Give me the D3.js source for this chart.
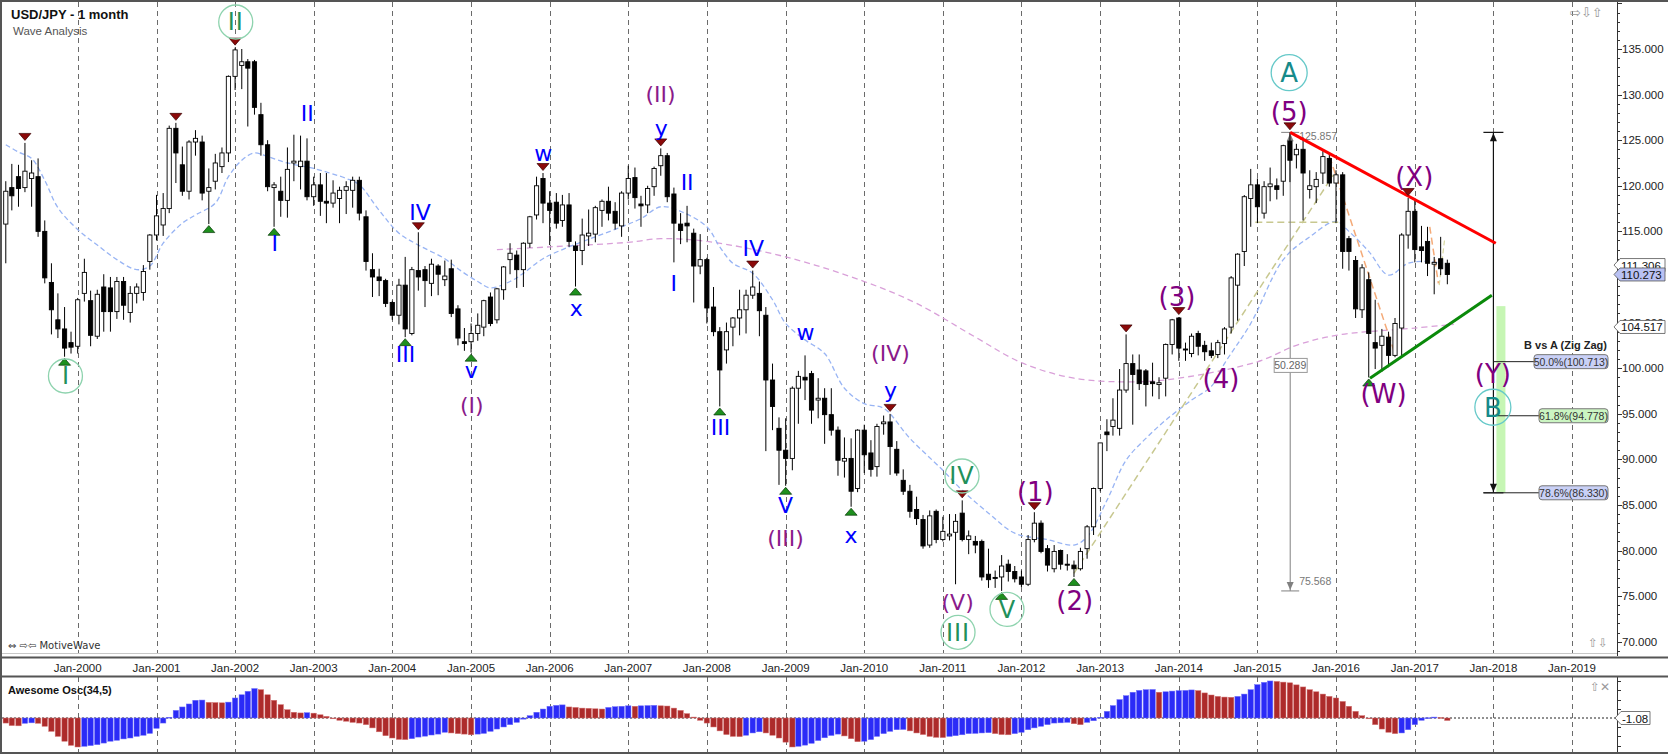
<!DOCTYPE html>
<html><head><meta charset="utf-8">
<script src="https://cdn.jsdelivr.net/npm/d3@7"></script>
<style>
body{margin:0;background:#fff;}
svg{display:block;font-family:"Liberation Sans",Arial,sans-serif;}
</style>
</head><body>
<svg id="c" width="1668" height="754"></svg>
<script>
// ---------------- DATA ----------------
const startMonth = "1999-01";
const opens = [
113.2,115.8,119.8,121.0,119.8,120.8,121.0,115.0,109.4,105.3,104.3,102.8,
102.4,108.2,107.4,103.5,108.9,108.8,106.2,109.5,106.1,108.2,108.3,111.7,
114.6,115.7,117.5,126.3,122.3,119.4,124.8,124.8,119.4,120.5,122.1,123.6,
132.0,133.2,133.6,133.6,127.8,124.5,119.8,119.4,118.4,122.5,122.1,122.7,
118.8,120.1,118.3,118.1,118.6,119.5,119.5,120.6,116.6,110.8,110.0,109.6,
107.2,105.8,109.1,103.8,110.7,110.8,109.3,111.2,109.7,110.9,106.5,102.9,
102.9,103.8,104.5,107.8,105.3,108.6,111.9,112.4,110.8,113.7,116.8,120.8,
118.1,118.2,116.2,117.9,113.4,112.9,114.5,114.7,117.3,118.3,117.2,115.6,
119.2,120.9,118.0,117.9,119.9,122.2,123.3,119.1,115.8,115.9,114.8,111.2,
111.9,106.7,104.0,102.0,104.5,105.5,106.4,108.0,108.2,105.8,98.7,93.4,
91.0,90.1,97.8,99.0,99.4,96.5,96.7,94.9,93.2,89.8,90.1,86.8,
93.2,90.7,89.2,93.9,94.1,91.1,87.7,86.5,84.5,83.4,80.6,84.3,
81.2,81.6,82.0,84.1,81.2,81.0,81.0,77.4,77.05,77.1,78.5,77.7,
77.1,76.3,81.2,83.0,80.2,78.0,80.0,78.5,78.4,78.0,80.2,82.6,
86.8,93.0,93.6,93.4,97.6,100.5,99.8,99.7,98.5,98.2,98.9,102.6,
105.5,102.1,101.6,103.8,102.5,101.9,101.5,102.7,104.5,109.1,112.8,118.6,
120.1,117.0,119.9,120.0,120.5,124.9,123.4,124.0,119.6,119.9,121.4,123.0,
120.3,121.2,114.2,111.8,106.4,109.7,102.8,102.5,103.4,101.4,104.4,114.6,
117.2,113.3,113.9,111.4,112.0,111.5];
const highs = [
116.8,120.5,122.4,122.3,124.7,122.8,123.0,116.2,111.5,108.2,106.7,104.0,
107.7,112.0,108.5,108.6,110.3,110.0,110.0,110.0,109.0,109.3,111.3,114.7,
119.0,119.2,126.6,126.9,124.3,125.0,126.1,125.5,121.9,123.5,124.2,132.1,
135.15,135.0,133.9,133.8,129.1,125.0,120.4,121.0,124.2,125.6,125.5,125.2,
121.0,121.4,121.4,120.6,119.9,120.5,121.0,121.0,117.3,112.6,110.9,109.8,
107.4,109.8,112.2,111.1,114.9,111.2,112.0,111.4,111.8,111.9,106.9,104.4,
104.9,106.0,107.5,108.3,108.8,111.2,113.7,112.9,113.8,116.7,121.0,121.4,
119.4,119.2,119.0,119.2,113.9,116.4,117.4,117.8,118.5,119.9,118.2,119.4,
122.2,122.0,118.9,120.0,122.1,124.1,123.6,119.8,117.0,117.8,115.3,114.7,
112.1,108.9,104.5,105.0,105.6,108.6,108.6,110.7,109.5,106.7,100.5,94.6,
94.5,98.0,99.7,101.4,99.7,98.9,97.8,97.8,93.6,92.4,92.3,93.3,
93.8,92.1,93.9,94.8,94.98,92.0,88.9,87.2,85.9,83.9,84.4,84.5,
83.7,84.0,84.0,85.5,82.2,81.6,81.2,80.2,77.8,79.5,79.0,78.3,
77.8,81.7,84.2,83.3,80.6,80.6,80.1,79.6,78.9,80.3,82.8,86.9,
91.8,94.4,96.7,99.9,103.7,101.5,101.5,99.9,100.6,99.0,102.7,105.4,
105.6,102.8,103.8,104.1,103.0,102.8,103.1,104.5,110.1,112.6,118.98,121.85,
120.8,120.5,122.0,120.8,124.5,125.86,124.6,125.3,121.7,121.5,123.8,123.6,
121.7,121.5,114.5,112.3,111.4,110.5,107.5,104.3,104.0,105.5,114.8,118.66,
118.6,115.6,115.5,112.2,114.4,111.9];
const lows = [
108.3,111.5,117.3,117.7,119.3,117.7,114.4,109.3,103.7,103.3,101.25,101.6,
101.6,107.3,102.4,103.2,104.0,104.0,105.4,105.3,105.0,107.1,107.4,110.8,
114.0,114.5,117.0,120.3,118.9,118.5,123.3,118.4,115.8,119.6,121.4,122.6,
130.5,130.6,126.5,127.8,123.3,119.4,115.5,116.6,116.5,120.5,119.6,118.4,
117.8,116.7,115.9,117.6,115.9,116.9,117.6,116.2,110.7,107.8,107.9,106.7,
105.3,104.8,103.4,103.6,108.5,106.7,107.9,108.0,109.0,105.6,102.5,101.9,
101.7,103.0,103.5,104.6,104.9,107.5,110.3,108.8,108.9,113.2,116.3,115.9,
113.5,115.3,115.5,113.3,108.95,111.3,113.4,113.8,115.5,116.2,115.2,114.4,
118.5,117.5,115.5,117.0,118.9,121.1,118.2,111.6,113.6,113.8,107.2,110.3,
104.9,103.5,95.8,100.5,102.4,103.6,103.8,107.6,103.5,90.9,93.2,87.2,
87.1,88.8,93.9,96.5,93.9,94.5,91.7,92.6,88.2,88.0,84.8,86.4,
88.5,88.1,88.1,92.7,88.3,88.2,86.1,83.6,82.8,80.2,80.3,80.8,
81.0,81.1,76.3,81.0,79.6,79.7,76.7,75.9,75.9,75.57,76.6,76.5,
76.0,76.1,80.9,79.7,77.7,77.6,77.9,77.8,77.1,77.8,79.1,81.7,
86.5,90.9,92.6,92.6,97.3,93.8,97.6,95.8,96.9,96.6,96.9,101.5,
100.8,100.8,101.2,101.4,100.8,101.1,101.1,101.5,103.8,105.2,111.2,115.5,
115.9,116.4,118.3,118.5,118.9,120.4,121.9,116.2,118.6,118.1,120.2,119.9,
115.9,110.9,110.7,105.5,105.5,98.98,99.9,99.6,100.1,101.2,101.2,113.1,
111.6,111.6,110.1,108.1,110.2,109.2];
const closes = [
115.8,119.4,118.9,119.7,121.6,121.4,115.0,109.9,106.4,104.3,102.2,102.3,
107.5,110.5,103.6,108.1,106.2,106.2,109.5,106.9,108.2,108.9,110.6,114.6,
116.7,117.5,126.3,123.6,119.4,124.8,125.2,119.2,119.8,122.5,123.6,132.0,
134.9,133.6,132.9,128.6,124.5,119.9,120.1,118.4,121.8,122.7,122.7,118.8,
120.1,118.3,118.1,119.2,119.5,119.9,120.6,117.0,111.7,110.0,109.6,107.1,
105.8,109.1,104.3,110.8,110.0,109.6,111.4,110.3,110.1,106.0,103.3,102.7,
103.8,104.7,107.4,104.9,108.7,111.1,112.6,110.8,113.7,116.6,120.0,118.1,
117.3,115.9,117.9,113.9,112.9,114.6,114.8,117.6,118.3,117.0,115.9,119.2,
120.8,118.7,117.8,119.7,121.9,123.3,118.8,115.9,115.1,115.6,111.2,111.9,
106.6,104.0,99.8,104.0,105.5,106.4,108.0,108.9,106.3,98.7,95.8,91.0,
90.1,97.8,99.1,98.7,95.4,96.7,94.9,93.2,89.9,90.1,86.5,93.2,
90.5,88.9,93.6,94.1,91.4,88.5,86.5,84.3,83.5,80.5,83.8,81.2,
82.1,81.8,83.2,81.2,81.6,80.6,77.1,76.8,76.95,78.3,77.7,76.9,
76.3,81.2,83.0,79.9,78.4,79.9,78.5,78.4,78.0,79.9,82.6,86.8,
91.8,92.7,94.3,97.6,100.5,99.3,98.3,98.2,98.3,98.4,102.6,105.3,
102.2,102.0,103.5,102.4,101.8,101.4,102.8,104.3,109.9,112.5,118.8,120.1,
117.7,119.9,120.2,119.6,124.4,122.8,124.0,121.4,120.0,120.7,123.2,120.3,
121.2,112.8,112.8,106.5,111.0,103.8,102.2,103.5,101.4,104.9,114.6,117.2,
113.0,112.9,111.5,111.6,110.9,110.273];
const aoValues = [
-1.5,-2.2,-3.3,-3.4,-2.3,-2.1,-2.3,-3.6,-5.8,-8.0,-10.1,-11.9,
-12.6,-12.3,-12.0,-11.6,-10.9,-10.1,-9.7,-9.1,-8.7,-8.0,-7.5,-6.7,
-4.5,-2.2,0.3,3.3,4.8,6.1,7.7,7.8,6.8,6.7,6.6,6.9,
8.7,10.1,11.6,12.8,12.3,10.1,7.7,5.8,3.6,2.5,2.2,2.3,
2.1,1.4,0.7,-0.1,-1.0,-1.4,-1.9,-2.2,-2.9,-4.3,-6.0,-7.7,
-8.7,-9.3,-9.4,-9.0,-8.3,-7.9,-7.4,-7.0,-6.2,-6.5,-6.8,-7.0,
-7.3,-7.0,-6.7,-5.8,-4.8,-3.9,-2.9,-1.9,-0.5,1.0,2.5,3.9,
5.1,5.5,5.7,4.8,4.6,4.3,4.2,4.0,3.9,4.6,4.9,5.1,
5.3,5.1,5.3,5.4,5.5,5.3,5.2,4.3,3.3,1.9,0.4,-1.0,
-2.2,-3.9,-5.6,-7.2,-8.0,-8.1,-7.5,-6.5,-6.0,-6.5,-7.5,-8.7,
-10.5,-12.6,-12.3,-11.8,-11.0,-9.8,-8.6,-7.6,-7.0,-7.8,-9.0,-10.3,
-10.1,-9.4,-8.0,-6.8,-5.8,-5.1,-5.0,-5.6,-6.5,-7.2,-8.0,-8.4,
-8.5,-8.0,-7.7,-7.3,-6.8,-6.7,-6.5,-6.4,-6.8,-7.2,-7.3,-6.8,
-6.2,-5.1,-4.3,-3.6,-2.9,-2.2,-2.1,-1.9,-2.5,-2.9,-1.9,-1.2,
0.3,2.9,5.4,8.0,9.7,11.2,12.0,12.3,12.4,11.2,11.4,11.7,
11.9,12.0,12.2,11.9,10.9,10.0,9.4,9.1,9.0,9.4,10.4,12.3,
14.5,15.5,16.1,15.9,15.6,15.3,14.4,13.5,12.3,11.4,10.4,9.4,
8.7,7.2,5.1,2.9,1.0,-0.3,-2.9,-4.8,-6.2,-6.8,-6.5,-5.1,
-2.9,-1.0,0.1,0.4,0.2,-1.08];

// moving averages (month, value)
const fastMA = [["1999-02",124.5],["1999-04",123.7],["1999-06",123.0],["1999-08",120.6],["1999-10",117.6],["2000-01",115.2],["2000-04",113.5],["2000-07",111.9],["2000-10",110.8],["2000-12",111.2],["2001-02",113.7],["2001-05",115.9],["2001-07",116.8],["2001-10",118.1],["2001-12",121.0],["2002-02",122.8],["2002-04",123.6],["2002-06",123.2],["2002-09",122.5],["2003-01",121.9],["2003-06",120.8],["2003-08",120.1],["2003-11",117.3],["2004-02",114.8],["2004-05",113.5],["2004-09",112.0],["2004-11",110.9],["2005-02",109.5],["2005-04",108.8],["2005-07",109.5],["2005-09",110.4],["2005-12",112.0],["2006-04",113.3],["2006-08",114.4],["2006-12",115.5],["2007-03",116.4],["2007-06",117.7],["2007-09",117.2],["2008-01",115.5],["2008-03",113.3],["2008-05",111.5],["2008-08",110.4],["2008-11",107.5],["2009-01",104.9],["2009-04",103.1],["2009-07",101.6],["2009-10",97.8],["2010-01",96.1],["2010-04",95.6],["2010-08",92.3],["2011-01",88.8],["2011-04",86.6],["2011-08",84.1],["2011-12",81.9],["2012-05",81.2],["2012-09",80.6],["2012-11",81.5],["2013-02",85.5],["2013-05",89.9],["2013-08",92.3],["2013-11",94.3],["2014-03",96.5],["2014-06",98.0],["2014-08",100.5],["2014-12",104.9],["2015-05",111.9],["2015-09",114.4],["2016-01",116.1],["2016-03",115.0],["2016-06",112.8],["2016-09",110.2],["2016-12",111.5],["2017-03",111.7],["2017-05",111.5]];
const slowMA = [["2005-05",113.0],["2006-01",113.3],["2007-01",113.8],["2007-06",114.2],["2008-01",113.9],["2009-01",112.2],["2010-01",109.5],["2010-09",107.1],["2011-06",103.4],["2012-01",100.6],["2012-09",98.9],["2013-06",98.5],["2014-01",98.9],["2015-01",100.7],["2015-07",102.5],["2016-01",103.6],["2017-01",104.4],["2017-07",104.8]];

const yearLabels = d3.range(2000, 2020).map(y => "Jan-" + y);
const priceTicks = [70,75,80,85,90,95,100,105,110,115,120,125,130,135];

const highMarkers = ["1999-05","2001-04","2002-01","2004-05","2005-12","2007-06","2008-08","2010-05","2011-04","2012-03","2013-05","2014-01","2015-06","2016-12"];
const lowMarkers = ["1999-11","2001-09","2002-07","2004-03","2005-01","2006-05","2008-03","2009-01","2009-11","2011-10","2012-09","2016-06"];

// wave labels: [decimal year, price, text, kind]
const waveLabels = [
 [1999.844,99.14,"I","gc"],[2002.008,137.96,"II","gc"],[2011.193,71.03,"III","gc"],[2011.244,88.17,"IV","gc"],[2011.816,73.55,"V","gc"],
 [2015.404,132.40,"A","tc"],[2017.993,95.71,"B","tc"],
 [2012.176,86.45,"(1)","pb"],[2012.676,74.57,"(2)","pb"],[2013.977,107.84,"(3)","pb"],[2014.536,98.89,"(4)","pb"],[2015.404,128.13,"(5)","pb"],
 [2016.603,97.24,"(W)","pb"],[2016.993,121.07,"(X)","pb"],[2017.993,99.44,"(Y)","pb"],
 [2005.008,95.96,"(I)","ps"],[2007.410,130.03,"(II)","ps"],[2008.999,81.34,"(III)","ps"],[2010.333,101.63,"(IV)","ps"],[2011.188,74.39,"(V)","ps"],
 [2002.919,127.95,"II","b"],[2002.504,113.69,"I","b"],[2004.351,117.16,"IV","b"],[2004.169,101.55,"III","b"],[2005.001,99.80,"v","b"],
 [2005.919,123.57,"w","b"],[2006.338,106.57,"x","b"],[2007.419,126.31,"y","b"],[2007.749,120.45,"II","b"],[2007.579,109.31,"I","b"],
 [2008.588,113.15,"IV","b"],[2008.172,93.58,"III","b"],[2009.253,104.00,"w","b"],[2008.999,84.99,"V","b"],[2010.333,97.60,"y","b"],[2009.833,81.70,"x","b"]
];

const redLine = [[2015.417,125.857],[2018.03,113.7]];
const greenLine = [[2016.431,98.9],[2017.98,108.0]];
const oliveDiag = [[2012.666,77.5],[2015.967,121.2]];
const oliveFlat = [[2014.973,116.0],[2016.028,116.0]];
const salmonLines = [[[2015.918,123.2],[2016.731,102.0]],[[2017.19,115.5],[2017.30,109.3]]];
const oliveSmall = [[2017.31,109.1],[2017.38,114.2]];
const measureA = {year:2015.417, top:125.857, bottom:75.568, range:"50.289"};
const fibAnchorYear = 2018.0;
const fibTop = 125.857;
const fibLevels = [["50.0%",100.713,"b"],["61.8%",94.778,"g"],["78.6%",86.330,"b"]];
const fibTitlePrice = 102.55;
const fibZone = [106.8, 86.33];
const priceFlags = [[111.306,"w"],[110.273,"b"],[104.517,"w"]];
const aoLast = "-1.08";
const aoTicks = [-16,-12,-8,-4,4,8,12,16];

// ---------------- SCALES ----------------
const svg = d3.select("#c");
const axisX = 1617;
const parseM = d3.utcParse("%Y-%m");
const start = parseM(startMonth);
const months = closes.map((_, i) => d3.utcMonth.offset(start, i));
const yd = v => { const yr = Math.floor(v); const a = Date.UTC(yr,0,1), b = Date.UTC(yr+1,0,1); return new Date(a + (v-yr)*(b-a)); };
const x = d3.scaleUtc().domain([new Date(Date.UTC(2000,0,1)), new Date(Date.UTC(2019,0,1))]).range([77.7, 1572]);
const y = d3.scaleLinear().domain([70,135]).range([641.7,49]);
const yAO = d3.scaleLinear().domain([-16,16]).range([754.8,681.2]);
const idxOf = m => months.findIndex(d => +d === +parseM(m));

const defs = svg.append("defs");
defs.append("clipPath").attr("id","mainClip").append("rect").attr("x",2).attr("y",2).attr("width",axisX-2).attr("height",652);
defs.append("clipPath").attr("id","aoClip").append("rect").attr("x",2).attr("y",677).attr("width",axisX-2).attr("height",75);

svg.append("rect").attr("x",0).attr("y",0).attr("width",1668).attr("height",754).attr("fill","#fff");

// gridlines
const years = d3.range(2000, 2020).map(yv => new Date(Date.UTC(yv,0,1)));
const grid = svg.append("g").attr("stroke","#6b6b6b").attr("stroke-dasharray","5,4").attr("stroke-width",1);
years.forEach(d => {
  const gx = Math.round(x(d)) + 0.5;
  grid.append("line").attr("x1",gx).attr("x2",gx).attr("y1",2).attr("y2",653);
  grid.append("line").attr("x1",gx).attr("x2",gx).attr("y1",677).attr("y2",752);
});

const main = svg.append("g").attr("clip-path","url(#mainClip)");

// moving averages
const lineGen = d3.line().x(d => x(parseM(d[0]))).y(d => y(d[1])).curve(d3.curveCatmullRom.alpha(0.5));
main.append("path").attr("d", lineGen(slowMA)).attr("fill","none").attr("stroke","#d9a0d9").attr("stroke-width",1.3).attr("stroke-dasharray","6,4");
main.append("path").attr("d", lineGen(fastMA)).attr("fill","none").attr("stroke","#98b4f4").attr("stroke-width",1.3).attr("stroke-dasharray","5,3");

// helper lines
const segY = d3.line().x(d => x(yd(d[0]))).y(d => y(d[1]));
main.append("path").attr("d", segY(oliveDiag)).attr("stroke","#c8c890").attr("stroke-width",1.5).attr("stroke-dasharray","7,4").attr("fill","none");
main.append("path").attr("d", segY(oliveFlat)).attr("stroke","#c8c890").attr("stroke-width",1.5).attr("stroke-dasharray","7,4").attr("fill","none");
main.append("path").attr("d", segY(oliveSmall)).attr("stroke","#d8d8a0").attr("stroke-width",1.2).attr("stroke-dasharray","5,3").attr("fill","none");
salmonLines.forEach(s => main.append("path").attr("d", segY(s)).attr("stroke","#f4aa78").attr("stroke-width",1.5).attr("stroke-dasharray","7,4").attr("fill","none"));

// measuring line (A)
const mx = x(yd(measureA.year));
const myT = y(measureA.top), myB = y(measureA.bottom);
main.append("line").attr("x1",mx).attr("x2",mx).attr("y1",myT).attr("y2",myB).attr("stroke","#808080").attr("stroke-width",1);
main.append("line").attr("x1",mx-9).attr("x2",mx+9).attr("y1",myT).attr("y2",myT).attr("stroke","#808080");
main.append("line").attr("x1",mx-9).attr("x2",mx+9).attr("y1",myB).attr("y2",myB).attr("stroke","#808080");
main.append("path").attr("d",`M${mx},${myT+1}L${mx-3.5},${myT+9}L${mx+3.5},${myT+9}Z`).attr("fill","#808080");
main.append("path").attr("d",`M${mx},${myB-1}L${mx-3.5},${myB-9}L${mx+3.5},${myB-9}Z`).attr("fill","#808080");
main.append("text").attr("x",mx+9).attr("y",myT+8).attr("font-size",10.5).attr("fill","#777").text(measureA.top.toFixed(3));
main.append("text").attr("x",mx+9).attr("y",myB-6).attr("font-size",10.5).attr("fill","#777").text(measureA.bottom.toFixed(3));
const midY = y(100.3);
main.append("rect").attr("x",mx-16).attr("y",midY-7).attr("width",33).attr("height",14).attr("fill","#fff").attr("stroke","#999");
main.append("text").attr("x",mx).attr("y",midY).attr("text-anchor","middle").attr("dominant-baseline","central").attr("font-size",10.5).attr("fill","#666").text(measureA.range);

// candles
const cw = 4.2;
const cg = main.append("g");
months.forEach((d, i) => {
  const cx = x(d);
  const o = opens[i], c = closes[i], h = highs[i], l = lows[i];
  cg.append("line").attr("x1",cx).attr("x2",cx).attr("y1",y(h)).attr("y2",y(l)).attr("stroke","#000").attr("stroke-width",1);
  const top = y(Math.max(o,c)), bot = y(Math.min(o,c));
  cg.append("rect").attr("x",cx-cw/2).attr("y",top).attr("width",cw).attr("height",Math.max(1,bot-top))
    .attr("fill", c >= o ? "#fff" : "#000").attr("stroke","#000").attr("stroke-width",0.9);
});

// fib projection (B vs A)
const fx = x(yd(fibAnchorYear));
main.append("rect").attr("x",fx+3).attr("y",y(fibZone[0])).attr("width",9).attr("height",y(fibZone[1])-y(fibZone[0])).attr("fill","#c6f6b4");
const fT = y(fibTop), fB = y(fibLevels[2][1]);
main.append("line").attr("x1",fx).attr("x2",fx).attr("y1",fT).attr("y2",fB).attr("stroke","#111").attr("stroke-width",1.2);
main.append("line").attr("x1",fx-10).attr("x2",fx+10).attr("y1",fT).attr("y2",fT).attr("stroke","#111").attr("stroke-width",1.2);
main.append("line").attr("x1",fx-10).attr("x2",fx+10).attr("y1",fB).attr("y2",fB).attr("stroke","#111").attr("stroke-width",1.2);
main.append("path").attr("d",`M${fx},${fT+1}L${fx-3.5},${fT+9}L${fx+3.5},${fT+9}Z`).attr("fill","#111");
main.append("path").attr("d",`M${fx},${fB-1}L${fx-3.5},${fB-9}L${fx+3.5},${fB-9}Z`).attr("fill","#111");
fibLevels.forEach((f, i) => {
  const ly = y(f[1]);
  const bx = i === 0 ? 1534 : 1539;
  const x0 = i === 0 ? fx : (i === 1 ? fx + 4 : fx - 10);
  main.append("line").attr("x1",x0).attr("x2",bx).attr("y1",ly).attr("y2",ly).attr("stroke","#222").attr("stroke-width",1);
  main.append("rect").attr("x",bx).attr("y",ly-7).attr("width",1608-bx).attr("height",14).attr("rx",3)
    .attr("fill", f[2] === "g" ? "#cbf5c2" : "#c9d0f6").attr("stroke","#777");
  main.append("text").attr("x",(bx+1608)/2).attr("y",ly+0.5).attr("text-anchor","middle").attr("dominant-baseline","central")
    .attr("font-size",10.5).attr("fill","#333").text(f[0] + "(" + f[1].toFixed(3) + ")");
});
main.append("text").attr("x",1607).attr("y",y(fibTitlePrice)).attr("text-anchor","end").attr("dominant-baseline","central")
  .attr("font-size",11).attr("font-weight","bold").attr("fill","#222").text("B vs A (Zig Zag)");

// triangle lines
main.append("path").attr("d", segY(redLine)).attr("stroke","#ff0000").attr("stroke-width",3).attr("fill","none");
main.append("path").attr("d", segY(greenLine)).attr("stroke","#0a8a0a").attr("stroke-width",3).attr("fill","none");

// markers
highMarkers.forEach(m => {
  const i = idxOf(m); const cx = x(months[i]); const ty = y(highs[i]) - 2.5;
  main.append("path").attr("d",`M${cx},${ty}L${cx-6},${ty-7}L${cx+6},${ty-7}Z`).attr("fill","#8b0a0a").attr("stroke","#3a0000").attr("stroke-width",0.7);
});
lowMarkers.forEach(m => {
  const i = idxOf(m); const cx = x(months[i]); const ty = y(lows[i]) + 1.5;
  main.append("path").attr("d",`M${cx},${ty}L${cx-6},${ty+7}L${cx+6},${ty+7}Z`).attr("fill","#1e8f1e").attr("stroke","#0a3a0a").attr("stroke-width",0.7);
});

// wave labels
const styles = {
  gc:{size:24, fill:"#22905a", font:"DejaVu Sans", circle:"#8ed3ae", r:17},
  tc:{size:26, fill:"#178a8a", font:"DejaVu Sans", circle:"#66c9c9", r:18},
  pb:{size:26, fill:"#800080", font:"DejaVu Sans"},
  ps:{size:22, fill:"#8a1a8a", font:"DejaVu Sans"},
  b:{size:22, fill:"#0000ff", font:"DejaVu Sans"}
};
waveLabels.forEach(w => {
  const s = styles[w[3]];
  const lx = x(yd(w[0])), ly = y(w[1]);
  if (s.circle) main.append("circle").attr("cx",lx).attr("cy",ly).attr("r",s.r).attr("fill","none").attr("stroke",s.circle).attr("stroke-width",1.3);
  main.append("text").attr("x",lx).attr("y",ly + s.size*0.02).attr("text-anchor","middle").attr("dominant-baseline","central")
    .attr("font-family",s.font).attr("font-size",s.size).attr("fill",s.fill)
    .attr("letter-spacing", w[3]==="gc" && w[2].length>1 ? 1 : 0).text(w[2]);
});

// ---------------- AO panel ----------------
const ao = svg.append("g").attr("clip-path","url(#aoClip)");
ao.append("line").attr("x1",2).attr("x2",axisX).attr("y1",yAO(0)).attr("y2",yAO(0)).attr("stroke","#222").attr("stroke-dasharray","2,2");
aoValues.forEach((v, i) => {
  const up = i === 0 ? v >= 0 : v > aoValues[i-1];
  const bx = x(months[i]);
  ao.append("rect").attr("x",bx-2.7).attr("width",5.4).attr("y",Math.min(yAO(v),yAO(0))).attr("height",Math.max(0.8,Math.abs(yAO(v)-yAO(0))))
    .attr("fill", up ? "#2b2bf7" : "#ad2b2b").attr("stroke", up ? "#6d6dfb" : "#d27070").attr("stroke-width",0.5);
});
svg.append("text").attr("x",8).attr("y",690).attr("dominant-baseline","central").attr("font-size",11).attr("font-weight","bold").attr("fill","#111").text("Awesome Osc(34,5)");

// ---------------- axes & frame ----------------
svg.append("line").attr("x1",axisX+0.5).attr("x2",axisX+0.5).attr("y1",2).attr("y2",656).attr("stroke","#333");
svg.append("line").attr("x1",axisX+0.5).attr("x2",axisX+0.5).attr("y1",677).attr("y2",753).attr("stroke","#333");
const ticks = svg.append("g").attr("stroke","#333");
d3.range(69, 141).forEach(v => {
  const ty = Math.round(y(v)) + 0.5;
  if (ty < 3 || ty > 655) return;
  ticks.append("line").attr("x1",axisX).attr("x2",axisX + (v % 5 === 0 ? 5 : 3)).attr("y1",ty).attr("y2",ty);
});
priceTicks.forEach(v => {
  svg.append("text").attr("x",axisX+5).attr("y",y(v)).attr("dominant-baseline","central").attr("font-size",11.5).attr("fill","#222").text(v.toFixed(3));
});
aoTicks.forEach(v => {
  const ty = Math.round(yAO(v)) + 0.5;
  if (ty < 678 || ty > 752) return;
  ticks.append("line").attr("x1",axisX).attr("x2",axisX+4).attr("y1",ty).attr("y2",ty);
});

function flag(yc, text, fill, x0, x1) {
  svg.append("path").attr("d",`M${x0},${yc}L${x0+6},${yc-6.5}L${x1},${yc-6.5}L${x1},${yc+6.5}L${x0+6},${yc+6.5}Z`)
    .attr("fill",fill).attr("stroke","#555").attr("stroke-width",0.8);
  svg.append("text").attr("x",x0+7).attr("y",yc+0.5).attr("dominant-baseline","central").attr("font-size",11.5).attr("fill","#111").text(text);
}
priceFlags.forEach(p => flag(y(p[0]), p[0].toFixed(3), p[1] === "b" ? "#b9c1f3" : "#fff", axisX-3, 1665));
flag(yAO(0), aoLast, "#fff", axisX-2, 1650);

// x axis band
svg.append("line").attr("x1",2).attr("x2",axisX).attr("y1",653.5).attr("y2",653.5).attr("stroke","#c8c8c8");
svg.append("line").attr("x1",0).attr("x2",1668).attr("y1",657.5).attr("y2",657.5).attr("stroke","#555").attr("stroke-width",2);
svg.append("line").attr("x1",0).attr("x2",1668).attr("y1",676.5).attr("y2",676.5).attr("stroke","#555").attr("stroke-width",2);
years.forEach((d, i) => {
  svg.append("text").attr("x",x(d)).attr("y",668).attr("text-anchor","middle").attr("dominant-baseline","central")
    .attr("font-size",11.5).attr("fill","#222").text(yearLabels[i]);
});
svg.append("line").attr("x1",0).attr("x2",1668).attr("y1",1).attr("y2",1).attr("stroke","#555").attr("stroke-width",2);
svg.append("line").attr("x1",1).attr("x2",1).attr("y1",0).attr("y2",754).attr("stroke","#555").attr("stroke-width",2);
svg.append("line").attr("x1",0).attr("x2",1668).attr("y1",753).attr("y2",753).attr("stroke","#555").attr("stroke-width",2);

// titles & icons
svg.append("text").attr("x",11).attr("y",14).attr("dominant-baseline","central").attr("font-size",13).attr("font-weight","bold").attr("fill","#111").text("USD/JPY - 1 month");
svg.append("text").attr("x",13).attr("y",31).attr("dominant-baseline","central").attr("font-size",11.5).attr("fill","#555").text("Wave Analysis");
svg.append("text").attr("x",8).attr("y",645).attr("dominant-baseline","central").attr("font-size",10).attr("fill","#333").attr("font-family","DejaVu Sans").text("⇔ ⇨⇦ MotiveWave");
svg.append("text").attr("x",1570).attr("y",12).attr("dominant-baseline","central").attr("font-size",13).attr("fill","#999").attr("font-family","DejaVu Sans").text("⇨⇩⇧");
svg.append("text").attr("x",1588).attr("y",643).attr("dominant-baseline","central").attr("font-size",12).attr("fill","#999").attr("font-family","DejaVu Sans").text("⇧⇩");
svg.append("text").attr("x",1590).attr("y",687).attr("dominant-baseline","central").attr("font-size",12).attr("fill","#999").attr("font-family","DejaVu Sans").text("⇧✕");
</script>
</body></html>
